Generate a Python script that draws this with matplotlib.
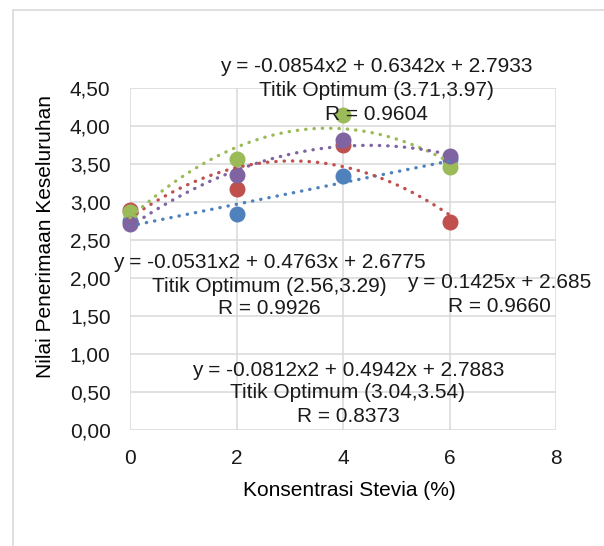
import numpy as np
import matplotlib
matplotlib.use("Agg")
import matplotlib.pyplot as plt
from matplotlib.ticker import FuncFormatter
from matplotlib.patches import Rectangle

plt.rcParams['font.family'] = ['Liberation Sans', 'DejaVu Sans']

# data
x = [0, 2, 4, 6]
blue = [2.75, 2.84, 3.34, 3.57]
red = [2.89, 3.17, 3.75, 2.74]
green = [2.87, 3.56, 4.14, 3.46]
purple = [2.71, 3.36, 3.81, 3.61]

# trendline coefficients (highest power first), as printed on the chart
coef_blue = [0.1425, 2.685]
coef_red = [-0.0812, 0.4942, 2.7883]
coef_green = [-0.0854, 0.6342, 2.7933]
coef_purple = [-0.0531, 0.4763, 2.6775]

label_green = ["y = -0.0854x2 + 0.6342x + 2.7933", "Titik Optimum (3.71,3.97)", "R = 0.9604"]
label_purple = ["y = -0.0531x2 + 0.4763x + 2.6775", "Titik Optimum (2.56,3.29)", "R = 0.9926"]
label_blue = ["y = 0.1425x + 2.685", "R = 0.9660"]
label_red = ["y = -0.0812x2 + 0.4942x + 2.7883", "Titik Optimum (3.04,3.54)", "R = 0.8373"]

W, H = 604, 546
fig = plt.figure(figsize=(W / 100, H / 100), dpi=100)
ax = fig.add_axes([130 / W, 1 - 430 / H, 426 / W, 342 / H])

series = [(blue, coef_blue, '#4F81BD'),
          (red, coef_red, '#C0504D'),
          (green, coef_green, '#9BBB59'),
          (purple, coef_purple, '#8064A2')]

xt = np.linspace(0, 6, 200)
for i, (vals, coef, col) in enumerate(series):
    ax.plot(x, vals, 'o', color=col, ms=10.5, zorder=3 + i * 0.1, clip_on=False)
for vals, coef, col in series:
    ax.plot(xt, np.polyval(coef, xt), color=col, lw=2.4,
            linestyle=(0, (0.1, 2.4)), dash_capstyle='round', zorder=4, clip_on=False)

ax.set_xlim(0, 8)
ax.set_ylim(0, 4.5)
ax.set_xticks([0, 2, 4, 6, 8])
ax.set_yticks(np.arange(0, 4.51, 0.5))
ax.yaxis.set_major_formatter(FuncFormatter(lambda v, p: f"{v:.2f}".replace('.', ',')))
ax.grid(True, color='#D9D9D9', lw=1.1)
ax.set_axisbelow(True)
for s in ax.spines.values():
    s.set_visible(False)
ax.tick_params(length=0, labelsize=15, colors='#1a1a1a', pad=14)

fig.text(349 / W, 1 - 490 / H, "Konsentrasi Stevia (%)", ha='center', va='center', fontsize=15)
fig.text(46 / W, 1 - 236 / H, "Nilai Penerimaan Keseluruhan", ha='center', va='center',
         rotation=90, fontsize=15)

def put(lines, cx, ys):
    for t, yy in zip(lines, ys):
        fig.text(cx / W, 1 - yy / H, t, ha='center', va='center', fontsize=15,
                 color='#1a1a1a', zorder=10)

put(label_green, 376, [67, 91, 114])
put(label_purple, 269, [262, 286, 309])
put(label_blue, 499, [283, 306])
put(label_red, 348, [370, 393, 416])

fig.patches.append(Rectangle((13 / W, -0.1), 1.2, 1 - 10 / H + 0.1, transform=fig.transFigure,
                             fill=False, edgecolor='#D9D9D9', lw=1.2))

fig.savefig("out.png", dpi=100)
